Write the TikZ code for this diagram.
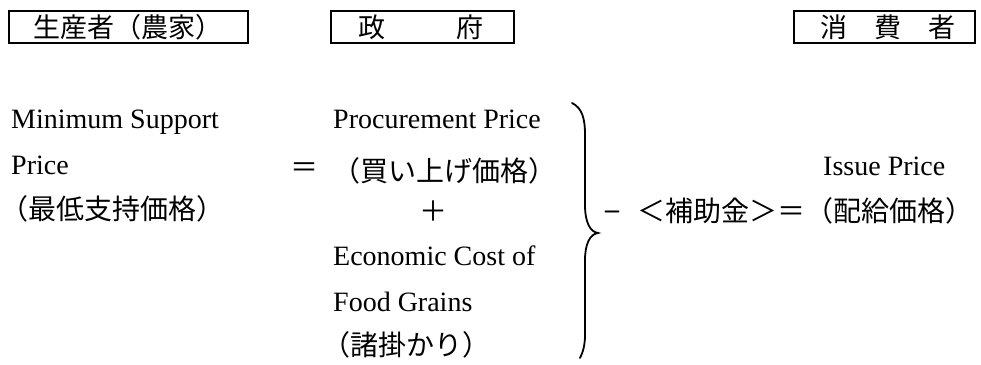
\documentclass[tikz,border=0pt]{standalone}
\usepackage{fontspec}
\setmainfont{Liberation Serif}
\newfontfamily\cjk{Noto Sans CJK JP}
\begin{document}
\begin{tikzpicture}[x=1pt,y=-1pt,
  lat/.style={font=\fontsize{28}{30}\selectfont, inner sep=0pt, anchor=base west},
  jp/.style={font=\cjk\fontsize{28}{30}\selectfont, inner sep=0pt, anchor=west},
  jph/.style={font=\cjk\fontsize{27}{30}\selectfont, inner sep=0pt, anchor=west},
  hdr/.style={draw, line width=1.2pt, minimum height=32pt, inner sep=0pt},
  bracestyle/.style={line width=1.8pt, line cap=round}]
\useasboundingbox (0,0) rectangle (981,364);
% header boxes
\node[hdr, minimum width=239pt] (b1) at (128.5,27) {};
\node[jph] (t1) at (33,27) {生産者（農家）};
\node[hdr, minimum width=183pt] (b2) at (422.5,27) {};
\node[jph] (t2) at (358,27) {政\hspace{71pt}府};
\node[hdr, minimum width=181pt] (b3) at (884.5,27) {};
\node[jph] (t3) at (820,27) {消\hspace{27pt}費\hspace{27pt}者};
% left column
\node[lat] (ms) at (11,128) {Minimum Support};
\node[lat] (pr) at (11,174) {Price};
\node[jp] (mj) at (0.5,209) {（最低支持価格）};
% middle column
\node[jp, anchor=center] (eq1) at (304,170) {＝};
\node[lat] (pp) at (333,128) {Procurement Price};
\node[jp] (pj) at (332,171) {（買い上げ価格）};
\node[jp, anchor=center] (plus) at (433,211) {＋};
\node[lat] (ec) at (333,265) {Economic Cost of};
\node[lat] (fg) at (333,311) {Food Grains};
\node[jp] (sj) at (322,345) {（諸掛かり）};
% brace
\draw[bracestyle] (572,103) .. controls (582,108) and (585,118) .. (585,135) -- (585,205) .. controls (585,222) and (590,232) .. (598,233) .. controls (590,234) and (585,244) .. (585,260) -- (585,335) .. controls (585,345) and (583,352) .. (580,358);
% right side
\node[lat, anchor=base, font=\bfseries\fontsize{28}{30}\selectfont] (mn) at (612,218) {–};
\node[jp] (sub) at (637,211) {＜補助金＞＝（配給価格）};
\node[lat] (ip) at (823,175) {Issue Price};
\end{tikzpicture}
\end{document}
